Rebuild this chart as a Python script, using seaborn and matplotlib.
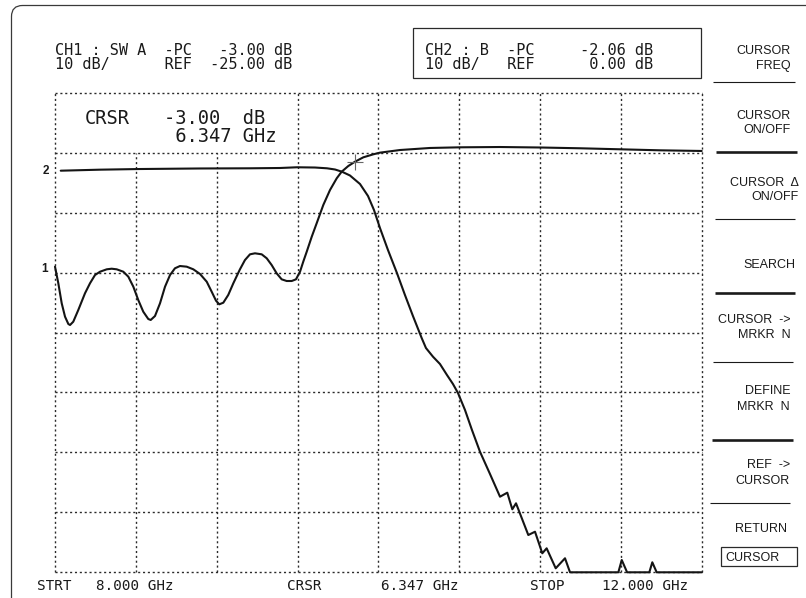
import matplotlib
matplotlib.use("Agg")
import matplotlib.pyplot as plt
from matplotlib.patches import FancyBboxPatch, Rectangle
import pandas as pd
import seaborn as sns

# ---- trace data, in screen divisions of the 8 x 8 graticule ----
ch1_x = [0.000, 0.041, 0.083, 0.124, 0.165, 0.186, 0.226, 0.288, 0.371, 0.433,
         0.495, 0.557, 0.640, 0.701, 0.763, 0.845, 0.907, 0.969, 1.030, 1.092,
         1.154, 1.184, 1.237, 1.299, 1.361, 1.423, 1.484, 1.546, 1.629, 1.711,
         1.794, 1.877, 1.938, 1.992, 2.032, 2.082, 2.143, 2.206, 2.288, 2.350,
         2.412, 2.474, 2.557, 2.619, 2.680, 2.742, 2.804, 2.866, 2.928, 2.981,
         3.031, 3.071, 3.114, 3.176, 3.237, 3.319, 3.402, 3.485, 3.546, 3.628,
         3.711, 3.814, 3.937, 4.020, 4.268, 4.639, 5.010, 5.505, 6.000, 6.494,
         6.989, 7.484, 8.000]
ch1_y = [5.098, 4.821, 4.487, 4.264, 4.142, 4.125, 4.180, 4.375, 4.654, 4.821,
         4.959, 5.014, 5.054, 5.064, 5.054, 5.014, 4.931, 4.764, 4.542, 4.347,
         4.225, 4.209, 4.275, 4.487, 4.764, 4.959, 5.071, 5.109, 5.098, 5.054,
         4.976, 4.847, 4.681, 4.530, 4.470, 4.497, 4.626, 4.821, 5.054, 5.209,
         5.304, 5.321, 5.304, 5.238, 5.126, 4.987, 4.887, 4.859, 4.859, 4.887,
         5.014, 5.181, 5.348, 5.598, 5.822, 6.127, 6.377, 6.572, 6.682, 6.777,
         6.849, 6.922, 6.972, 7.000, 7.044, 7.078, 7.089, 7.094, 7.086, 7.073,
         7.056, 7.039, 7.028]

ch2_x = [0.071, 0.557, 1.051, 1.794, 2.412, 2.783, 2.994, 3.216, 3.365, 3.464,
         3.550, 3.649, 3.773, 3.872, 3.946, 4.020, 4.119, 4.230, 4.329, 4.428,
         4.536, 4.589, 4.676, 4.762, 4.849, 4.923, 4.985, 5.072, 5.158, 5.257,
         5.381, 5.505, 5.595, 5.657, 5.703, 5.855, 5.938, 6.028, 6.082, 6.194,
         6.309, 6.371, 6.969, 7.011, 7.077, 7.352, 7.389, 7.443, 8.000]
ch2_y = [6.699, 6.716, 6.727, 6.736, 6.739, 6.744, 6.756, 6.752, 6.739, 6.719,
         6.682, 6.619, 6.477, 6.277, 6.043, 5.743, 5.376, 4.992, 4.626, 4.275,
         3.908, 3.741, 3.596, 3.475, 3.291, 3.141, 2.991, 2.707, 2.374, 2.012,
         1.640, 1.261, 1.328, 1.051, 1.151, 0.622, 0.677, 0.317, 0.400, 0.067,
         0.234, 0.000, 0.000, 0.205, 0.000, 0.000, 0.167, 0.000, 0.000]

cursor_x, cursor_y = 3.71, 6.85
ch1_ref, ch2_ref = 5.06, 6.70

header_ch1 = ["CH1 : SW A  -PC   -3.00 dB", "10 dB/      REF  -25.00 dB"]
header_ch2 = ["CH2 : B  -PC     -2.06 dB", "10 dB/   REF      0.00 dB"]
crsr_label = "CRSR"
crsr_lines = ["-3.00  dB", " 6.347 GHz"]
footer = [("STRT", 37), ("8.000 GHz", 96), ("CRSR", 287), ("6.347 GHz", 381),
          ("STOP", 530), ("12.000 GHz", 602)]
menu_items = [(["CURSOR", "FREQ"], [50, 64.3], 791),
              (["CURSOR", "ON/OFF"], [115, 128.5], 791),
              (["CURSOR  \u0394", "ON/OFF"], [181.7, 196], 799),
              (["SEARCH"], [263.3], 795),
              (["CURSOR  ->", "MRKR  N"], [318.3, 333.3], 791),
              (["DEFINE", "MRKR  N"], [390, 406], 790),
              (["REF  ->", "CURSOR"], [463.3, 480], 790),
              (["RETURN"], [527.7], 787)]
separators = [(81.7, 713, 795, 0.8), (152.3, 716, 797, 1.9), (219, 715, 795, 0.8),
              (293.3, 715, 795, 1.9), (362, 713, 793, 0.8), (440, 712, 793, 1.9),
              (503, 710, 790, 0.8)]

sns.set_style("white")
plt.rcParams["font.family"] = ["DejaVu Sans Mono"]

W, H = 806, 598
fig = plt.figure(figsize=(W / 100, H / 100), dpi=100)
fig.patch.set_facecolor("white")

# overlay axes in pixel units for the frame, readouts and soft keys
ov = fig.add_axes([0, 0, 1, 1])
ov.set_xlim(0, W)
ov.set_ylim(H, 0)
ov.axis("off")

ov.add_patch(FancyBboxPatch((11.5, 5.5), 900, 700,
                            boxstyle="round,pad=0,rounding_size=11",
                            fill=False, ec="#3a3a3a", lw=0.9))
ov.add_patch(Rectangle((412.7, 28.3), 288.3, 49.4, fill=False, ec="#2a2a2a", lw=0.9))

MONO = "DejaVu Sans Mono"
SANS = "Liberation Sans"


def baseline(center, size_pt, cap=0.729):
    return center + cap * size_pt * 100 / 72 / 2


hs = 11
for s, yc in zip(header_ch1, [49.3, 63.3]):
    ov.text(54.8, baseline(yc, hs), s, family=MONO, fontsize=hs, color="#1a1a1a",
            ha="left", va="baseline")
for s, yc in zip(header_ch2, [49.3, 63.3]):
    ov.text(425.4, baseline(yc, hs), s, family=MONO, fontsize=hs, color="#1a1a1a",
            ha="left", va="baseline")

cs = 13.5
ov.text(84.5, baseline(116.7, cs), crsr_label, family=MONO, fontsize=cs,
        color="#1a1a1a", ha="left", va="baseline")
for s, yc in zip(crsr_lines, [116.7, 135]):
    ov.text(163.5, baseline(yc, cs), s, family=MONO, fontsize=cs, color="#1a1a1a",
            ha="left", va="baseline")

fs = 10.3
for s, x in footer:
    ov.text(x, baseline(585, fs), s, family=MONO, fontsize=fs, color="#1a1a1a",
            ha="left", va="baseline")

ms = 9
for lines, ys, xr in menu_items:
    for s, yc in zip(lines, ys):
        ov.text(xr, baseline(yc, ms, 0.716), s, family=SANS, fontsize=ms,
                color="#1a1a1a", ha="right", va="baseline")
for y, x0, x1, lw in separators:
    ov.plot([x0, x1], [y, y], color="#1a1a1a", lw=lw, solid_capstyle="butt")

ov.add_patch(Rectangle((721, 546.7), 76.3, 19, fill=False, ec="#2a2a2a", lw=0.9))
ov.text(725.5, baseline(556.2, ms, 0.716), "CURSOR", family=SANS, fontsize=ms,
        color="#1a1a1a", ha="left", va="baseline")

# graticule and traces
ax = fig.add_axes([55 / W, 1 - 572.3 / H, (701.7 - 55) / W, (572.3 - 92.7) / H])
ax.set_xlim(0, 8)
ax.set_ylim(0, 8)
ax.axis("off")

dot = dict(color="#2a2a2a", lw=1.0, linestyle=(0, (1.5, 2.0)), clip_on=False)
for xv in range(0, 9):
    top = 7 if xv in (1, 2) else 8
    ax.plot([xv, xv], [0, top], **dot)
for yv in range(0, 9):
    ax.plot([0, 8], [yv, yv], **dot)

df1 = pd.DataFrame({"x": ch1_x, "y": ch1_y})
df2 = pd.DataFrame({"x": ch2_x, "y": ch2_y})
sns.lineplot(data=df1, x="x", y="y", ax=ax, color="#141414", lw=1.5,
             sort=False, estimator=None, clip_on=False)
sns.lineplot(data=df2, x="x", y="y", ax=ax, color="#141414", lw=1.5,
             sort=False, estimator=None, clip_on=False)
ax.axis("off")

ax.plot([cursor_x], [cursor_y], marker="+", ms=12, mew=0.8, color="#666666",
        clip_on=False)

ax.text(-0.11, ch2_ref, "2", family=SANS, fontsize=8.5, fontweight="bold",
        ha="center", va="center", color="#1a1a1a", clip_on=False)
ax.text(-0.135, ch1_ref, "1", family=SANS, fontsize=8.5, fontweight="bold",
        ha="center", va="center", color="#1a1a1a", clip_on=False)

fig.savefig("out.png", dpi=100, facecolor="white")
